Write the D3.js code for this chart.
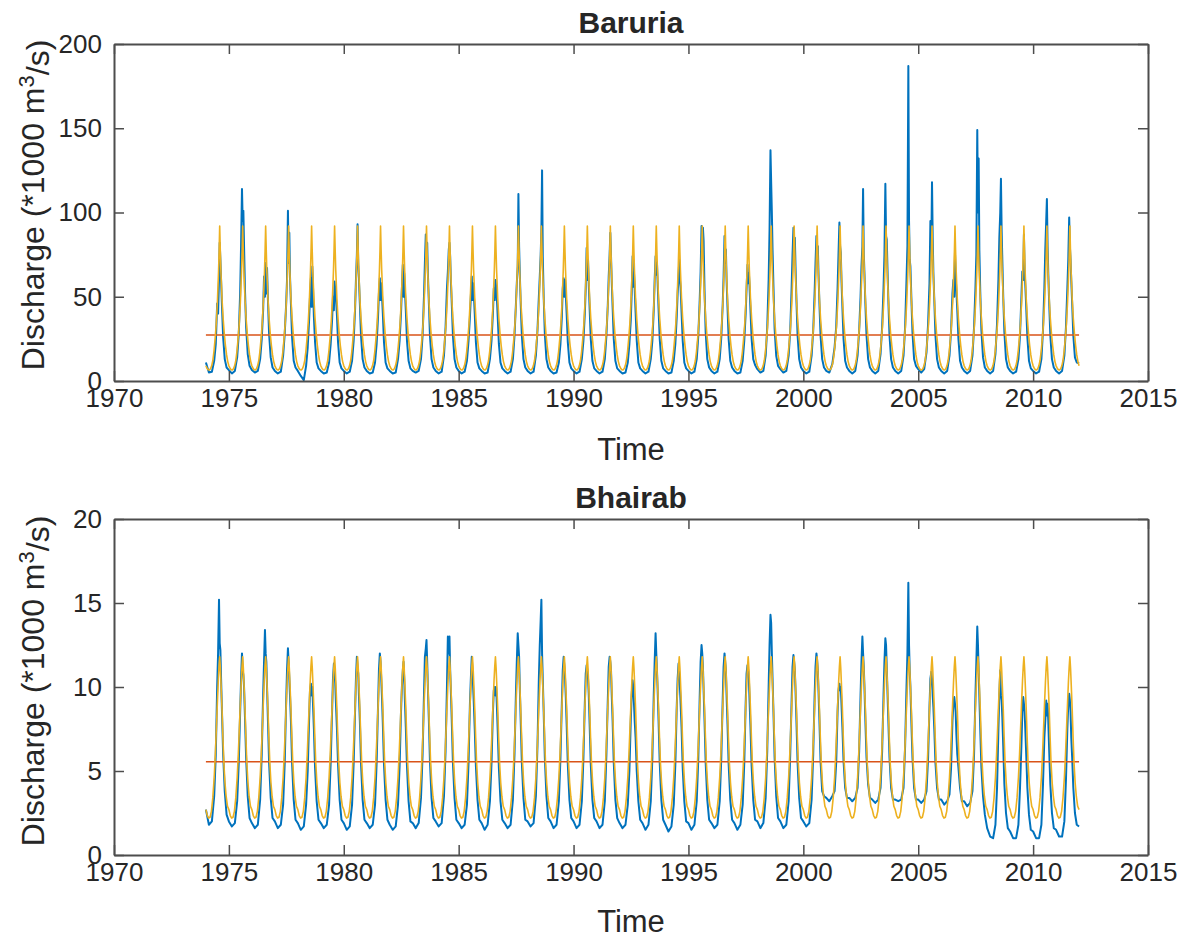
<!DOCTYPE html>
<html>
<head>
<meta charset="utf-8">
<script src="https://cdn.jsdelivr.net/npm/d3@7"></script>
<style>
  body { margin: 0; background: #fff; }
  text { font-family: "Liberation Sans", Arial, Helvetica, sans-serif; fill: #262626; }
</style>
</head>
<body>
<div id="chart"></div>
<script>
// first year of the record, the record runs to the start of endYear
var startYear = 1974, endYear = 2012;

// fraction of the year at which each blue value was read
var sampleFrac = [0.00, 0.13, 0.26, 0.36, 0.43, 0.49, 0.53, 0.57, 0.60, 0.63, 0.66, 0.70, 0.75, 0.82, 0.90];

// Baruria observed discharge (*1000 m3/s), one row per year 1974..2011
var baruriaObs = [
  [11, 5, 5.5, 12, 22, 46, 40, 60, 82, 72, 60, 44, 26, 13, 8],
  [6.5, 4.5, 6, 14, 28, 52, 80, 114, 95, 101, 80, 54, 32, 16, 9],
  [6.5, 5, 6, 13, 25, 42, 62, 50, 70, 52, 67, 48, 28, 14, 8],
  [6, 4.5, 5.5, 15, 28, 45, 60, 101, 70, 88, 62, 46, 26, 12, 8],
  [6, 3, 0.5, 9, 20, 36, 50, 61, 44, 68, 56, 38, 23, 11, 7.5],
  [6, 4.5, 5, 11, 22, 36, 50, 42, 59, 54, 49, 40, 23, 11, 7.5],
  [6, 4.5, 5.5, 12, 24, 42, 60, 75, 93, 70, 60, 46, 27, 13, 8],
  [6, 4.5, 5, 11, 22, 38, 52, 61, 48, 58, 52, 40, 23, 11, 7.5],
  [6, 4.5, 5, 13, 24, 40, 55, 69, 50, 64, 54, 42, 24, 12, 7.5],
  [6, 5, 6, 13, 27, 50, 70, 87, 75, 82, 64, 48, 27, 13, 8],
  [6, 4.5, 5.5, 15, 32, 55, 65, 78, 82, 74, 60, 46, 27, 13, 8],
  [6, 4.5, 5.5, 12, 24, 38, 50, 62, 48, 58, 52, 40, 23, 11, 7.5],
  [6, 4.5, 5, 13, 24, 40, 55, 48, 60, 56, 50, 38, 22, 11, 7.5],
  [6, 4.5, 5.5, 13, 27, 45, 58, 68, 111, 80, 64, 46, 27, 13, 8],
  [6, 4.5, 5.5, 15, 30, 50, 62, 75, 90, 125, 74, 50, 28, 13, 8],
  [6, 4.5, 5, 11, 22, 38, 55, 61, 50, 60, 52, 40, 23, 11, 7.5],
  [6, 4.5, 5.5, 13, 24, 40, 55, 79, 60, 72, 58, 43, 25, 12, 7.5],
  [6, 4.5, 5.5, 13, 27, 45, 62, 75, 88, 74, 60, 44, 25, 12, 7.5],
  [6, 4.5, 5, 11, 22, 36, 52, 74, 56, 64, 55, 41, 24, 11, 7.5],
  [6, 4.5, 5.5, 13, 24, 42, 60, 74, 63, 70, 58, 43, 25, 12, 7.5],
  [6, 4.5, 5, 12, 22, 38, 52, 62, 72, 60, 55, 41, 24, 11, 7.5],
  [6, 4.5, 5.5, 13, 27, 48, 65, 92, 80, 91, 83, 54, 29, 13, 8],
  [6, 4.5, 5.5, 13, 26, 45, 62, 86, 70, 78, 60, 44, 25, 12, 8],
  [6, 4.5, 5, 12, 24, 40, 55, 69, 58, 64, 56, 42, 25, 13, 9.5],
  [7, 5, 6, 15, 32, 60, 90, 137, 118, 100, 78, 56, 31, 15, 9],
  [7, 5, 6, 15, 30, 55, 75, 91, 80, 85, 68, 48, 27, 13, 8],
  [6, 4.5, 5.5, 15, 30, 52, 70, 86, 78, 80, 64, 46, 27, 13, 8],
  [6, 5, 10, 20, 32, 55, 75, 94, 80, 76, 60, 44, 25, 12, 8],
  [6, 4.5, 6, 15, 30, 50, 68, 80, 114, 76, 64, 46, 27, 13, 8],
  [6, 4.5, 6, 16, 32, 55, 75, 117, 86, 84, 68, 48, 27, 13, 8],
  [6, 4.5, 6, 15, 32, 60, 80, 187, 95, 72, 68, 50, 29, 13, 9],
  [7, 5, 7, 17, 34, 58, 95, 80, 118, 85, 64, 48, 27, 13, 8],
  [6, 4.5, 6, 15, 30, 52, 60, 50, 76, 62, 54, 42, 25, 12, 8],
  [6, 4.5, 6, 15, 32, 55, 75, 149, 100, 132, 78, 53, 30, 14, 8],
  [6, 4.5, 6, 16, 34, 60, 85, 100, 120, 90, 72, 50, 29, 13, 8],
  [6, 4.5, 5.5, 13, 27, 50, 65, 60, 87, 66, 57, 44, 26, 12, 7.5],
  [6, 4.5, 5.5, 13, 30, 55, 78, 95, 108, 80, 64, 46, 27, 13, 8],
  [6, 4.5, 6, 15, 32, 55, 72, 97, 80, 72, 60, 46, 27, 14, 11]
];
var baruriaObsEnd = 10.5;

// Bhairab observed discharge (*1000 m3/s), one row per year 1974..2011
var bhairabObs = [
  [2.7, 1.8, 2.0, 3.5, 6.0, 10.0, 12.0, 15.2, 12.6, 12.2, 10.5, 8.5, 6.0, 3.8, 2.4],
  [2.0, 1.7, 1.9, 3.2, 5.5, 8.5, 10.5, 12.0, 11.0, 10.7, 10.0, 8.2, 5.8, 3.5, 2.2],
  [1.9, 1.6, 1.8, 3.3, 6.0, 9.5, 11.5, 13.4, 12.0, 11.5, 10.0, 8.0, 5.5, 3.4, 2.2],
  [2.0, 1.6, 1.8, 3.0, 5.5, 9.0, 11.0, 12.3, 11.5, 10.5, 9.5, 8.0, 5.5, 3.3, 2.1],
  [1.9, 1.5, 1.7, 3.0, 5.0, 8.0, 9.8, 10.2, 9.5, 10.0, 9.0, 7.5, 5.2, 3.2, 2.1],
  [1.9, 1.6, 1.8, 3.0, 5.5, 8.5, 10.5, 11.4, 10.8, 10.2, 9.0, 7.6, 5.4, 3.3, 2.1],
  [1.9, 1.5, 1.7, 3.0, 5.5, 8.5, 10.5, 11.8, 11.2, 10.8, 9.5, 8.0, 5.5, 3.3, 2.1],
  [1.9, 1.6, 1.8, 3.0, 5.5, 8.8, 11.0, 12.0, 11.5, 10.5, 9.5, 7.8, 5.4, 3.3, 2.1],
  [1.8, 1.5, 1.7, 3.0, 5.3, 8.5, 10.0, 11.0, 11.5, 10.5, 9.2, 7.6, 5.3, 3.2, 2.0],
  [1.9, 1.6, 1.9, 3.4, 6.0, 9.5, 11.8, 12.3, 12.8, 11.5, 10.0, 8.2, 5.6, 3.4, 2.2],
  [2.0, 1.7, 1.9, 3.5, 6.2, 10.0, 13.0, 12.0, 13.0, 11.0, 9.8, 8.0, 5.5, 3.4, 2.1],
  [1.9, 1.6, 1.8, 3.0, 5.5, 9.0, 10.5, 11.8, 11.0, 10.0, 9.0, 7.5, 5.3, 3.3, 2.1],
  [1.9, 1.5, 1.8, 3.2, 5.5, 8.5, 9.8, 10.0, 9.5, 10.0, 9.0, 7.4, 5.2, 3.2, 2.1],
  [1.9, 1.6, 1.8, 3.3, 6.0, 9.5, 11.5, 13.2, 12.5, 11.8, 10.0, 8.0, 5.5, 3.4, 2.1],
  [2.0, 1.7, 1.9, 3.5, 6.5, 10.5, 12.5, 14.0, 15.2, 12.0, 10.5, 8.5, 5.8, 3.5, 2.2],
  [2.0, 1.6, 1.8, 3.2, 5.8, 9.0, 11.0, 11.8, 11.2, 10.5, 9.5, 7.8, 5.4, 3.3, 2.2],
  [2.0, 1.6, 1.8, 3.2, 5.8, 9.0, 10.8, 11.3, 11.0, 10.5, 9.6, 7.8, 5.4, 3.3, 2.2],
  [2.0, 1.6, 1.8, 3.2, 6.0, 9.2, 11.2, 11.8, 11.5, 11.0, 9.6, 8.0, 5.5, 3.3, 2.2],
  [1.9, 1.6, 1.8, 3.0, 5.0, 8.0, 9.5, 10.4, 10.0, 9.0, 8.0, 7.0, 5.0, 3.2, 2.1],
  [1.9, 1.5, 1.8, 3.2, 5.8, 9.5, 11.5, 13.2, 12.0, 11.0, 9.8, 8.0, 5.5, 3.3, 2.1],
  [1.8, 1.4, 1.7, 3.0, 5.4, 8.8, 10.5, 11.4, 10.8, 10.0, 9.0, 7.6, 5.2, 3.2, 2.0],
  [1.9, 1.5, 1.8, 3.2, 5.8, 9.4, 11.5, 12.5, 12.0, 11.2, 9.8, 8.0, 5.5, 3.3, 2.1],
  [1.9, 1.6, 1.8, 3.2, 5.8, 9.2, 11.2, 12.0, 11.5, 11.0, 9.5, 7.8, 5.4, 3.3, 2.1],
  [1.9, 1.5, 1.8, 3.0, 5.5, 9.0, 10.8, 11.3, 11.0, 10.5, 9.2, 7.6, 5.3, 3.3, 2.1],
  [2.0, 1.6, 1.9, 3.4, 6.2, 10.0, 12.5, 14.3, 13.8, 12.0, 10.5, 8.5, 5.8, 3.5, 2.2],
  [2.0, 1.6, 1.8, 3.2, 6.0, 9.2, 11.2, 11.9, 11.5, 11.0, 9.8, 8.0, 5.5, 3.4, 2.2],
  [2.0, 1.7, 1.9, 3.3, 6.0, 9.4, 11.2, 12.0, 11.6, 11.0, 9.8, 8.0, 5.6, 3.8, 3.5],
  [3.4, 3.2, 3.5, 3.8, 5.5, 8.5, 9.8, 10.2, 9.8, 10.0, 9.0, 7.6, 5.6, 4.0, 3.4],
  [3.4, 3.2, 3.4, 4.0, 6.2, 9.5, 11.5, 13.0, 12.0, 11.2, 10.0, 8.0, 5.8, 4.2, 3.4],
  [3.3, 3.1, 3.3, 4.0, 6.2, 9.5, 11.5, 12.9, 12.5, 11.2, 9.8, 8.0, 5.8, 4.0, 3.3],
  [3.3, 3.2, 3.3, 4.0, 6.5, 10.0, 12.0, 16.2, 12.5, 11.0, 10.0, 8.0, 5.8, 4.0, 3.3],
  [3.3, 3.1, 3.3, 3.8, 5.8, 8.8, 10.5, 10.9, 10.5, 9.5, 8.8, 7.5, 5.5, 4.0, 3.3],
  [3.3, 3.0, 3.2, 3.6, 5.2, 8.0, 9.0, 9.4, 9.0, 8.5, 7.2, 6.0, 5.2, 4.0, 3.2],
  [3.2, 2.9, 3.1, 3.8, 6.0, 9.5, 11.5, 13.6, 12.5, 11.0, 9.5, 7.5, 5.2, 3.5, 2.4],
  [1.6, 1.1, 1.0, 1.8, 4.0, 7.5, 9.5, 11.0, 9.5, 9.2, 8.2, 6.5, 4.2, 2.5, 1.6],
  [1.4, 1.0, 1.0, 1.8, 4.0, 6.5, 8.5, 9.4, 9.0, 8.5, 7.5, 6.0, 4.0, 2.4, 1.5],
  [1.4, 1.0, 1.0, 1.8, 4.2, 7.0, 8.0, 9.2, 8.3, 9.0, 8.0, 6.2, 4.2, 2.5, 1.6],
  [1.5, 1.1, 1.1, 2.0, 4.5, 7.5, 9.0, 9.6, 9.2, 8.5, 7.0, 5.8, 4.0, 2.5, 1.8]
];
var bhairabObsEnd = 1.7;

// fitted seasonal cycle, same every year: [fraction of year, value]
var baruriaFit = [
  [0.00, 9], [0.05, 7.6], [0.10, 6.7], [0.15, 6.5], [0.20, 7.3], [0.25, 9],
  [0.30, 12], [0.35, 17.5], [0.40, 25], [0.45, 34], [0.50, 47], [0.55, 65],
  [0.575, 77], [0.60, 92], [0.625, 78], [0.65, 66], [0.70, 49], [0.75, 37],
  [0.80, 28], [0.85, 21], [0.90, 15.5], [0.95, 11.5]
];
var bhairabFit = [
  [0.00, 2.7], [0.06, 2.35], [0.12, 2.2], [0.18, 2.25], [0.24, 2.6], [0.30, 3.4],
  [0.36, 4.6], [0.41, 6.0], [0.46, 7.7], [0.50, 9.1], [0.54, 10.4], [0.57, 11.2],
  [0.60, 11.8], [0.63, 11.1], [0.66, 10.1], [0.70, 8.7], [0.74, 7.0], [0.78, 5.5],
  [0.83, 4.3], [0.88, 3.5], [0.94, 2.9]
];

// long-term mean
var baruriaMean = 27.3;
var bhairabMean = 5.55;

var xTicks = [1970, 1975, 1980, 1985, 1990, 1995, 2000, 2005, 2010, 2015];
var baruriaTicks = [0, 50, 100, 150, 200];
var bhairabTicks = [0, 5, 10, 15, 20];

var W = 1191, H = 938;
var svg = d3.select("#chart").append("svg")
  .attr("width", W).attr("height", H);

var x = d3.scaleLinear().domain([1970, 2015]).range([114, 1148]);

function obsPoints(rows, endVal) {
  var pts = [];
  rows.forEach(function(row, i) {
    row.forEach(function(v, j) {
      pts.push([startYear + i + sampleFrac[j], v]);
    });
  });
  pts.push([endYear, endVal]);
  return pts;
}

function fitPoints(profile) {
  var pts = [];
  for (var yr = startYear; yr < endYear; yr++) {
    profile.forEach(function(p) { pts.push([yr + p[0], p[1]]); });
  }
  pts.push([endYear, profile[0][1]]);
  return pts;
}

function panel(cfg) {
  var y = d3.scaleLinear().domain(cfg.yDomain).range([cfg.bottom, cfg.top]);
  var g = svg.append("g");

  var line = d3.line()
    .x(function(d) { return x(d[0]); })
    .y(function(d) { return y(d[1]); });

  g.append("path")
    .datum(obsPoints(cfg.obs, cfg.obsEnd))
    .attr("d", line)
    .attr("fill", "none")
    .attr("stroke", "#0072BD")
    .attr("stroke-width", 2)
    .attr("stroke-linejoin", "round");

  g.append("path")
    .datum([[startYear, cfg.mean], [endYear, cfg.mean]])
    .attr("d", line)
    .attr("fill", "none")
    .attr("stroke", "#D95319")
    .attr("stroke-width", 1.6);

  g.append("path")
    .datum(fitPoints(cfg.fit))
    .attr("d", line)
    .attr("fill", "none")
    .attr("stroke", "#EDB120")
    .attr("stroke-width", 1.6)
    .attr("stroke-linejoin", "round");

  // axes box with inward ticks on all sides
  var axB = g.append("g").attr("transform", "translate(0," + cfg.bottom + ")")
    .call(d3.axisBottom(x).tickValues(xTicks).tickFormat(d3.format("d"))
      .tickSizeInner(-10).tickSizeOuter(0).tickPadding(8));
  var axT = g.append("g").attr("transform", "translate(0," + cfg.top + ")")
    .call(d3.axisTop(x).tickValues(xTicks).tickFormat("")
      .tickSizeInner(-10).tickSizeOuter(0));
  var axL = g.append("g").attr("transform", "translate(114,0)")
    .call(d3.axisLeft(y).tickValues(cfg.yTicks).tickFormat(d3.format("d"))
      .tickSizeInner(-10).tickSizeOuter(0).tickPadding(12));
  var axR = g.append("g").attr("transform", "translate(1148,0)")
    .call(d3.axisRight(y).tickValues(cfg.yTicks).tickFormat("")
      .tickSizeInner(-10).tickSizeOuter(0));

  [axB, axT, axL, axR].forEach(function(a) {
    a.select(".domain").attr("stroke", "#4d4d4d").attr("stroke-width", 2);
    a.selectAll(".tick line").attr("stroke", "#4d4d4d").attr("stroke-width", 1.5);
    a.selectAll("text").style("font-size", "26px").attr("fill", "#262626");
  });

  // title
  svg.append("text")
    .attr("x", 631).attr("y", cfg.titleY)
    .attr("text-anchor", "middle")
    .style("font-size", "30px").style("font-weight", "bold")
    .attr("fill", "#000")
    .text(cfg.title);

  // x label
  svg.append("text")
    .attr("x", 631).attr("y", cfg.xLabelY)
    .attr("text-anchor", "middle")
    .style("font-size", "31px")
    .text("Time");

  // y label
  var yl = svg.append("text")
    .attr("transform", "translate(44," + cfg.yLabelC + ") rotate(-90)")
    .attr("text-anchor", "middle")
    .style("font-size", "32px");
  yl.append("tspan").text("Discharge (*1000 m");
  yl.append("tspan").attr("dy", "-0.45em").style("font-size", "22px").text("3");
  yl.append("tspan").attr("dy", "0.45em").text("/s)");
}

panel({
  title: "Baruria", titleY: 33, xLabelY: 460, yLabelC: 205,
  top: 44, bottom: 381, yDomain: [0, 200], yTicks: baruriaTicks,
  obs: baruriaObs, obsEnd: baruriaObsEnd, fit: baruriaFit, mean: baruriaMean
});

panel({
  title: "Bhairab", titleY: 508, xLabelY: 932, yLabelC: 681,
  top: 519, bottom: 855, yDomain: [0, 20], yTicks: bhairabTicks,
  obs: bhairabObs, obsEnd: bhairabObsEnd, fit: bhairabFit, mean: bhairabMean
});
</script>
</body>
</html>
